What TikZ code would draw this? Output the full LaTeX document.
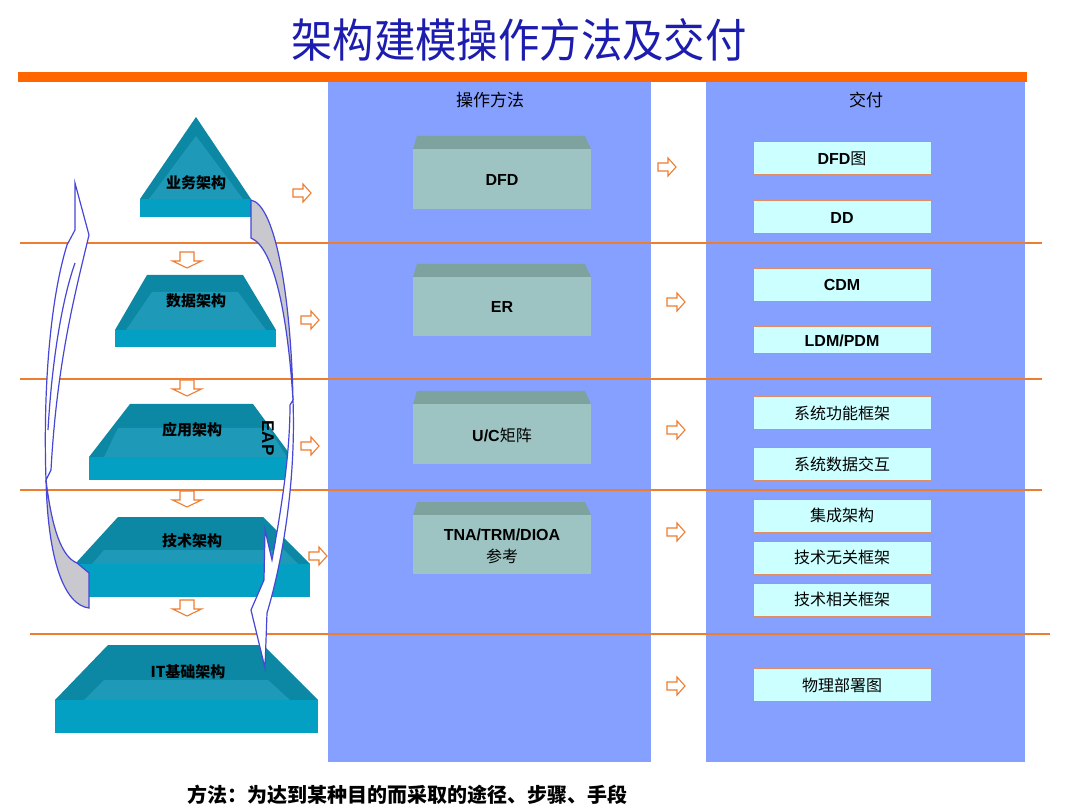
\documentclass[tikz,border=0pt]{standalone}
\usepackage{fontspec}
\usepackage{graphicx}
\setmainfont{Liberation Sans}
\newfontfamily\cjk{Noto Sans CJK SC}
\definecolor{titleblue}{RGB}{28,28,175}
\definecolor{barorange}{RGB}{255,102,0}
\definecolor{lineorange}{RGB}{237,125,49}
\definecolor{colblue}{RGB}{134,160,255}
\definecolor{tealtop}{RGB}{12,136,165}
\definecolor{tealmid}{RGB}{30,154,184}
\definecolor{tealfront}{RGB}{4,160,195}
\definecolor{boxfront}{RGB}{157,196,194}
\definecolor{boxtop}{RGB}{126,162,158}
\definecolor{delfill}{RGB}{204,255,255}
\definecolor{delborder}{RGB}{226,140,100}
\definecolor{ribbon}{RGB}{70,70,215}
\definecolor{ribbongray}{RGB}{200,200,206}
\tikzset{
  hline/.style={draw=lineorange, line width=1.1pt},
  arrowline/.style={draw=lineorange, line width=1.1pt, fill=white, line join=miter},
  rarr/.pic={\path[arrowline] (-9,-4) -- (1,-4) -- (1,-9) -- (9,0) -- (1,9) -- (1,4) -- (-9,4) -- cycle;},
  darr/.pic={\path[arrowline] (-7,-8) -- (7,-8) -- (7,1) -- (14.5,1) -- (0,8) -- (-14.5,1) -- (-7,1) -- cycle;},
  plabel/.style={font=\cjk\bfseries\fontsize{15}{17}\selectfont, inner sep=0pt},
  mlabel/.style={font=\bfseries\fontsize{16}{18}\selectfont, inner sep=0pt, align=center},
  dbox/.style={draw=delborder, line width=1pt, fill=delfill, minimum width=178pt, minimum height=33pt, inner sep=0pt},
  dlat/.style={font=\bfseries\fontsize{16}{18}\selectfont},
  dcjk/.style={font=\cjk\fontsize{16}{18}\selectfont},
  ribbonline/.style={draw=ribbon, line width=1.2pt, line join=miter},
}
\begin{document}
\begin{tikzpicture}[x=1pt,y=-1pt]
\useasboundingbox[fill=white] (0,0) rectangle (1080,810);

% title
\node[text=titleblue, inner sep=0pt] (title) at (519,40) {\scalebox{0.9}[1]{\cjk\fontsize{46}{50}\selectfont 架构建模操作方法及交付}};

% orange bar and columns
\fill[barorange] (18,72) rectangle (1027,82);
\fill[colblue] (328,82) rectangle (651,762);
\fill[colblue] (706,82) rectangle (1025,762);

\node[font=\cjk\fontsize{17}{19}\selectfont] (h1) at (490,100) {操作方法};
\node[font=\cjk\fontsize{17}{19}\selectfont] (h2) at (866,100) {交付};

% separators
\draw[hline] (20,243) -- (1042,243);
\draw[hline] (20,379) -- (1042,379);
\draw[hline] (20,490) -- (1042,490);
\draw[hline] (30,634) -- (1050,634);

% pyramid layer 1
\fill[tealtop] (196,117) -- (251,199) -- (140,199) -- cycle;
\fill[tealmid] (196,136) -- (243,199) -- (149,199) -- cycle;
\fill[tealfront] (140,199) rectangle (251,217);
% layer 2
\fill[tealtop] (147,275) -- (243,275) -- (276,330) -- (115,330) -- cycle;
\fill[tealmid] (152,292) -- (238,292) -- (266,330) -- (126,330) -- cycle;
\fill[tealfront] (115,330) rectangle (276,347);
% layer 3
\fill[tealtop] (130,404) -- (253,404) -- (292,457) -- (89,457) -- cycle;
\fill[tealmid] (118,428) -- (268,428) -- (287,457) -- (104,457) -- cycle;
\fill[tealfront] (89,457) rectangle (292,480);
% layer 4
\fill[tealtop] (118,517) -- (263,517) -- (310,564) -- (75,564) -- cycle;
\fill[tealmid] (104,550) -- (284,550) -- (298,564) -- (92,564) -- cycle;
\fill[tealfront] (75,564) rectangle (310,597);
% layer 5
\fill[tealtop] (108,645) -- (263,645) -- (318,700) -- (55,700) -- cycle;
\fill[tealmid] (104,680) -- (268,680) -- (290,700) -- (84,700) -- cycle;
\fill[tealfront] (55,700) rectangle (318,733);

% down arrows between layers
\pic (da1) at (187,260) {darr};
\pic (da2) at (187,388) {darr};
\pic (da3) at (187,499) {darr};
\pic (da4) at (187,608) {darr};

% right arrows next to layers
\pic (ra1) at (302,193) {rarr};
\pic (ra2) at (310,320) {rarr};
\pic (ra3) at (310,446) {rarr};
\pic (ra4) at (318,556) {rarr};

% left curved arrow (up)
\path[ribbonline, fill=ribbongray] (89,573) -- (89,608) .. controls (64,605) and (48,560) .. (46,480)
   .. controls (52,530) and (62,557) .. (77,563) -- cycle;
\path[ribbonline, fill=white] (46,480) .. controls (43,390) and (50,300) .. (67,245) -- (75,230) -- (75,183)
   -- (89,235) .. controls (76,290) and (57,360) .. (51,470) -- cycle;
\draw[ribbonline] (75,263) .. controls (62,300) and (52,360) .. (48,430);

% right curved arrow (down)
\path[ribbonline, fill=ribbongray] (251,200) .. controls (276,205) and (291,300) .. (293,400)
   .. controls (288,320) and (275,248) .. (251,238) -- cycle;
\path[ribbonline, fill=white] (293,400) .. controls (296,480) and (283,560) .. (267,613) -- (265,668)
   -- (251,610) -- (264,580) -- (265,530) -- (272,560) .. controls (283,500) and (290,450) .. (290,405) -- cycle;

% pyramid labels
\node[plabel] (l1) at (196,183) {业务架构};
\node[plabel] (l2) at (196,301) {数据架构};
\node[plabel] (l3) at (192,430) {应用架构};
\node[plabel] (l4) at (192,541) {技术架构};
\node[plabel] (l5) at (188,672) {\bfseries IT\cjk 基础架构};
\node[font=\bfseries\fontsize{17}{19}\selectfont, rotate=-90, inner sep=0pt] (eap) at (268,438) {EAP};

% method boxes
\foreach \t/\b/\n in {136/209/m1, 264/336/m2, 391/464/m3, 502/574/m4}{
  \fill[boxtop] (417,\t) -- (585,\t) -- (591,\t+13) -- (413,\t+13) -- cycle;
  \fill[boxfront] (413,\t+13) rectangle (591,\b);
}
\node[mlabel] (t1) at (502,180) {DFD};
\node[mlabel] (t2) at (502,307) {ER};
\node[mlabel] (t3) at (502,435) {U/C{\cjk\mdseries 矩阵}};
\node[mlabel] (t4) at (502,535) {TNA/TRM/DIOA};
\node[font=\cjk\fontsize{16}{18}\selectfont, inner sep=0pt] (t4b) at (502,556) {参考};

% middle arrows
\pic (ma1) at (667,167) {rarr};
\pic (ma2) at (676,302) {rarr};
\pic (ma3) at (676,430) {rarr};
\pic (ma4) at (676,532) {rarr};
\pic (ma5) at (676,686) {rarr};

% deliverables
\node[dbox, dlat] (d1) at (842,158.5) {DFD{\cjk\mdseries 图}};
\node[dbox, dlat] (d2) at (842,217.5) {DD};
\node[dbox, dlat] (d3) at (842,285) {CDM};
\node[dbox, dlat, minimum height=27pt] (d4) at (842,340.5) {LDM/PDM};
\node[dbox, dcjk] (d5) at (842,413) {系统功能框架};
\node[dbox, dcjk] (d6) at (842,464) {系统数据交互};
\node[dbox, dcjk] (d7) at (842,515.5) {集成架构};
\node[dbox, dcjk] (d8) at (842,557.5) {技术无关框架};
\node[dbox, dcjk] (d9) at (842,599.5) {技术相关框架};
\node[dbox, dcjk] (d10) at (842,685) {物理部署图};

% footnote
\node[font=\cjk\bfseries\fontsize{20}{22}\selectfont, inner sep=0pt] (foot) at (407,795) {方法：为达到某种目的而采取的途径、步骤、手段};
\end{tikzpicture}
\end{document}
